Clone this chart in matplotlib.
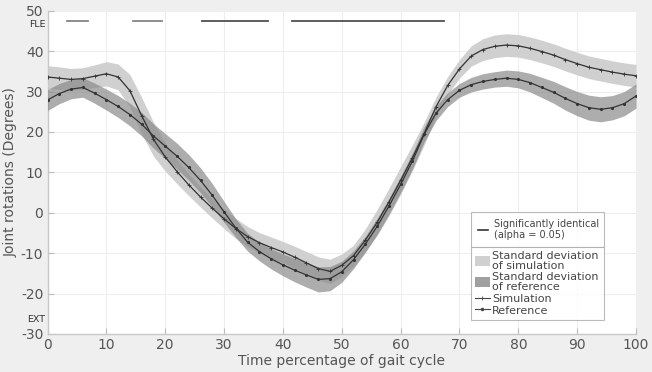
import numpy as np
import matplotlib
matplotlib.use("Agg")
import matplotlib.pyplot as plt
from matplotlib.patches import Patch
from matplotlib.lines import Line2D

plt.rcParams["axes.unicode_minus"] = False

# ---- data ----
gait_pct = list(range(0, 101, 2))

simulation = [33.6, 33.3, 33.0, 33.2, 33.8, 34.4, 33.6, 30.2, 24.0, 18.2,
              13.8, 10.2, 6.9, 3.9, 1.1, -1.5, -3.9, -5.9, -7.4, -8.6,
              -9.7, -11.0, -12.4, -13.8, -14.5, -13.0, -10.6, -6.8, -2.4, 2.6,
              8.0, 13.6, 19.6, 26.2, 31.5, 35.6, 38.8, 40.4, 41.2, 41.5,
              41.3, 40.7, 39.9, 39.0, 37.9, 36.9, 36.0, 35.4, 34.8, 34.3, 33.9]

reference = [27.9, 29.5, 30.6, 31.0, 29.6, 28.0, 26.3, 24.3, 21.9, 19.0,
             16.5, 14.0, 11.2, 8.0, 4.3, 0.2, -3.8, -7.3, -9.6, -11.4,
             -12.9, -14.2, -15.4, -16.5, -16.3, -14.6, -11.6, -7.8, -3.4, 1.6,
             7.0, 12.8, 19.4, 24.6, 28.0, 30.3, 31.7, 32.5, 33.0, 33.3,
             33.0, 32.2, 31.0, 29.8, 28.3, 27.0, 26.0, 25.6, 26.0, 27.0, 28.9]

sim_std = [2.8, 2.8, 2.7, 2.7, 2.8, 3.0, 3.2, 4.0, 4.5, 4.2,
           3.5, 3.0, 2.7, 2.5, 2.4, 2.4, 2.5, 2.5, 2.5, 2.6,
           2.6, 2.7, 2.8, 2.9, 3.0, 2.8, 2.6, 2.8, 3.2, 3.4,
           3.4, 3.2, 2.8, 2.4, 2.2, 2.3, 2.5, 2.7, 2.8, 2.8,
           2.8, 2.8, 2.8, 2.8, 2.8, 2.8, 2.8, 2.8, 2.8, 2.8, 2.8]

ref_std = [2.6, 2.5, 2.4, 2.4, 2.5, 2.6, 2.7, 2.8, 2.9, 3.0,
           3.1, 3.2, 3.2, 3.1, 2.9, 2.6, 2.3, 2.2, 2.3, 2.5,
           2.7, 2.9, 3.0, 3.1, 3.0, 2.6, 2.2, 2.0, 2.0, 2.0,
           2.0, 2.0, 1.9, 1.8, 1.7, 1.7, 1.8, 1.9, 1.9, 2.0,
           2.1, 2.3, 2.5, 2.7, 2.9, 3.0, 3.1, 3.1, 3.0, 3.0, 3.0]

# significantly identical intervals (start, end) in % gait cycle
sig_start = [3.3, 14.6, 26.3, 41.6]
sig_end = [6.9, 19.4, 37.4, 67.3]
sig_level = 47.5

x_ticks = list(range(0, 101, 10))
y_ticks = list(range(-30, 51, 10))

# ---- plot ----
fig = plt.figure(figsize=(6.52, 3.72), dpi=100, facecolor="#efefef")
ax = fig.add_axes([0.0729, 0.1022, 0.9026, 0.869])
ax.set_facecolor("white")

x = np.array(gait_pct, dtype=float)
sim = np.array(simulation)
ref = np.array(reference)
ss = np.array(sim_std)
rs = np.array(ref_std)

ax.fill_between(x, sim - ss, sim + ss, color="#d0d0d0", lw=0, zorder=2)
ax.fill_between(x, ref - rs, ref + rs, color="#8a8a8a", alpha=0.7, lw=0, zorder=3)

ax.plot(x, sim, color="#333333", lw=0.9, marker="+", ms=2.5, mew=0.6, zorder=4)
ax.plot(x, ref, color="#333333", lw=0.9, marker=".", ms=2.5, zorder=5)

sig_colors = ["#858585", "#858585", "#505050", "#505050"]
for s, e, c in zip(sig_start, sig_end, sig_colors):
    ax.plot([s, e], [sig_level, sig_level], color=c, lw=1.3, zorder=6)

ax.set_xlim(0, 100)
ax.set_ylim(-30, 50)
ax.set_xticks(x_ticks)
ax.set_yticks(y_ticks)
ax.grid(True, color="#eeeeee", lw=0.8, zorder=0)
ax.set_axisbelow(True)
ax.tick_params(direction="in", length=4, color="#bbbbbb", labelcolor="#555555",
               labelsize=10, pad=3)
for side in ["top", "right"]:
    ax.spines[side].set_visible(False)
for side in ["left", "bottom"]:
    ax.spines[side].set_color("#c8c8c8")
    ax.spines[side].set_linewidth(1.0)

ax.set_xlabel("Time percentage of gait cycle", fontsize=10, color="#555555", labelpad=1)
ax.set_ylabel("Joint rotations (Degrees)", fontsize=10, color="#555555")
ax.yaxis.set_label_coords(-0.05, 0.5)

ax.text(-0.4, 46.6, "FLE", ha="right", va="center", fontsize=6.8, color="#333333",
        clip_on=False)
ax.text(-0.4, -26.3, "EXT", ha="right", va="center", fontsize=6.8, color="#333333",
        clip_on=False)

# legends
h1 = [Line2D([0], [0], color="#333333", lw=1.2)]
leg1 = ax.legend(h1, ["Significantly identical\n(alpha = 0.05)"], loc="lower left",
                 bbox_to_anchor=(0.72, 0.269, 0.226, 0.115), mode="expand",
                 fontsize=7, frameon=True, fancybox=False, edgecolor="#aaaaaa",
                 handlelength=1.0, handletextpad=0.6, borderpad=0.7,
                 borderaxespad=0)
leg1.get_frame().set_linewidth(0.8)
for t in leg1.get_texts():
    t.set_color("#444444")
ax.add_artist(leg1)

h2 = [Patch(facecolor="#d0d0d0", edgecolor="none"),
      Patch(facecolor="#a0a0a0", edgecolor="none"),
      Line2D([0], [0], color="#444444", lw=0.8, marker="+", ms=3, mew=0.6),
      Line2D([0], [0], color="#444444", lw=0.8, marker=".", ms=3)]
l2 = ["Standard deviation\nof simulation", "Standard deviation\nof reference",
      "Simulation", "Reference"]
leg2 = ax.legend(h2, l2, loc="upper left", bbox_to_anchor=(0.72, 0.0, 0.226, 0.269),
                 mode="expand", fontsize=8, frameon=True, fancybox=False,
                 edgecolor="#aaaaaa", handlelength=1.3, handletextpad=0.2,
                 borderpad=0.35, labelspacing=0.1, borderaxespad=0, handleheight=1.0)
leg2.get_frame().set_linewidth(0.8)
for t in leg2.get_texts():
    t.set_color("#444444")
    t.set_linespacing(1.0)

fig.savefig("out.png", dpi=100, facecolor=fig.get_facecolor())
